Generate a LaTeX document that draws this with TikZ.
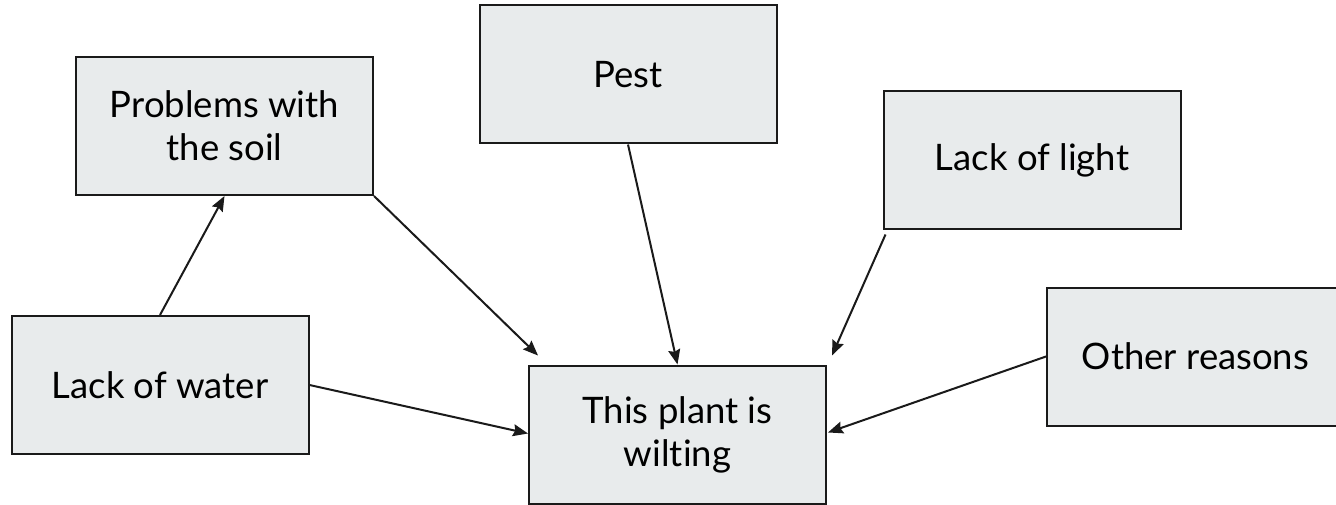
\documentclass[tikz,border=0pt]{standalone}
\usepackage{fontspec}
\setmainfont{Lato}[Ligatures={NoCommon,NoContextual}]
\usetikzlibrary{arrows.meta}
\definecolor{boxfill}{HTML}{E8EBEC}
\definecolor{lineclr}{HTML}{1A1A1A}
\tikzset{
  box/.style={draw=lineclr, line width=2pt, fill=boxfill, minimum width=297pt, minimum height=138pt,
    inner sep=0pt, align=center, font=\fontsize{36.5}{43}\selectfont, text=black},
  conn/.style={draw=lineclr, line width=2pt, -{Stealth[length=15pt,width=12pt,inset=2pt]}}
}
\begin{document}
\begin{tikzpicture}[x=1pt,y=-1pt]
\clip (0,0) rectangle (1336,505);
\fill[white] (0,0) rectangle (1336,505);
\node[box] (soil) at (224.5,126) {Problems with\\the soil};
\node[box] (pest) at (628,74.5) {Pest};
\node[box] (light) at (1032,160.5) {Lack of light};
\node[box] (water) at (160,385) {Lack of water};
\node[box] (wilt) at (677.5,434.5) {This plant is\\wilting};
\node[box] (other) at (1195.5,356.5) {Other reasons};
\draw[conn] (water.north) -- (soil.south);
\draw[conn] (soil.south east) -- ([shift={(10,-9)}]wilt.north west);
\draw[conn] (pest.south) -- (wilt.north);
\draw[conn] ([shift={(3,4)}]light.south west) -- ([shift={(5,-9)}]wilt.north east);
\draw[conn] (other.west) -- ([shift={(1,-2)}]wilt.east);
\draw[conn] (water.east) -- ([shift={(0,-1)}]wilt.west);
\end{tikzpicture}
\end{document}
